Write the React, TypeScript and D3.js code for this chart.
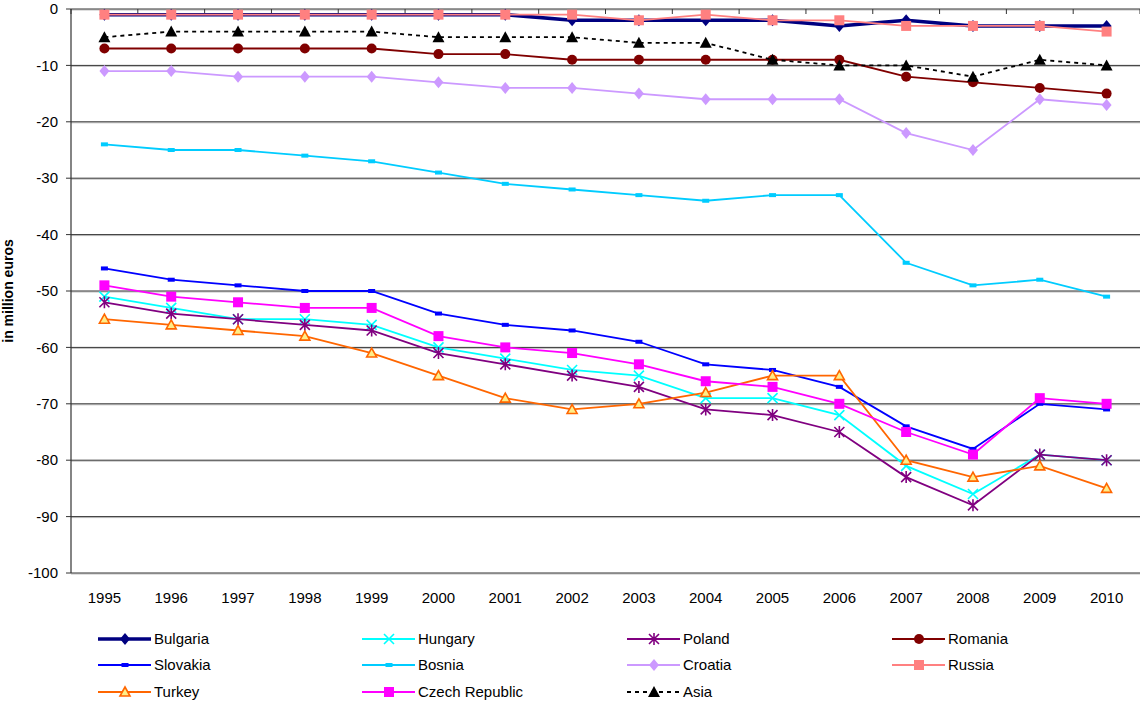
import * as d3 from 'd3';

const years = ['1995', '1996', '1997', '1998', '1999', '2000', '2001', '2002', '2003', '2004', '2005', '2006', '2007', '2008', '2009', '2010'];
const yTicks = [0, -10, -20, -30, -40, -50, -60, -70, -80, -90, -100];

const bulgaria = [-1, -1, -1, -1, -1, -1, -1, -2, -2, -2, -2, -3, -2, -3, -3, -3];
const hungary = [-51, -53, -55, -55, -56, -60, -62, -64, -65, -69, -69, -72, -81, -86, -79, -80];
const poland = [-52, -54, -55, -56, -57, -61, -63, -65, -67, -71, -72, -75, -83, -88, -79, -80];
const romania = [-7, -7, -7, -7, -7, -8, -8, -9, -9, -9, -9, -9, -12, -13, -14, -15];
const slovakia = [-46, -48, -49, -50, -50, -54, -56, -57, -59, -63, -64, -67, -74, -78, -70, -71];
const bosnia = [-24, -25, -25, -26, -27, -29, -31, -32, -33, -34, -33, -33, -45, -49, -48, -51];
const croatia = [-11, -11, -12, -12, -12, -13, -14, -14, -15, -16, -16, -16, -22, -25, -16, -17];
const russia = [-1, -1, -1, -1, -1, -1, -1, -1, -2, -1, -2, -2, -3, -3, -3, -4];
const turkey = [-55, -56, -57, -58, -61, -65, -69, -71, -70, -68, -65, -65, -80, -83, -81, -85];
const czech = [-49, -51, -52, -53, -53, -58, -60, -61, -63, -66, -67, -70, -75, -79, -69, -70];
const asia = [-5, -4, -4, -4, -4, -5, -5, -5, -6, -6, -9, -10, -10, -12, -9, -10];

type Marker = 'diamond' | 'x' | 'star' | 'circle' | 'dash' | 'square' | 'triangle';

interface Series {
  name: string;
  values: number[];
  color: string;
  width: number;
  marker: Marker;
  fill?: string;
  dashed?: boolean;
}

const series: Series[] = [
  { name: 'Bulgaria', values: bulgaria, color: '#000080', width: 3.5, marker: 'diamond' },
  { name: 'Hungary', values: hungary, color: '#00FFFF', width: 1.8, marker: 'x' },
  { name: 'Poland', values: poland, color: '#800080', width: 1.8, marker: 'star' },
  { name: 'Romania', values: romania, color: '#800000', width: 1.8, marker: 'circle' },
  { name: 'Slovakia', values: slovakia, color: '#0000FF', width: 1.8, marker: 'dash' },
  { name: 'Bosnia', values: bosnia, color: '#00CCFF', width: 1.8, marker: 'dash' },
  { name: 'Croatia', values: croatia, color: '#CC99FF', width: 1.8, marker: 'diamond' },
  { name: 'Russia', values: russia, color: '#FF8080', width: 1.8, marker: 'square' },
  { name: 'Turkey', values: turkey, color: '#FF6600', width: 1.8, marker: 'triangle', fill: '#FFEE88' },
  { name: 'Czech Republic', values: czech, color: '#FF00FF', width: 1.8, marker: 'square' },
  { name: 'Asia', values: asia, color: '#000000', width: 1.8, marker: 'triangle', dashed: true },
];

const W = 1140;
const H = 704;
const plot = { left: 71, right: 1140, top: 9, bottom: 573 };
const font = 'Arial, "Liberation Sans", sans-serif';

const MarkerShape = ({ s, x, y }: { s: Series; x: number; y: number }) => {
  const c = s.color;
  switch (s.marker) {
    case 'diamond':
      return <path d={`M${x},${y - 6}L${x + 5},${y}L${x},${y + 6}L${x - 5},${y}Z`} fill={c} />;
    case 'square':
      return <rect x={x - 5} y={y - 5} width={10} height={10} fill={c} />;
    case 'circle':
      return <circle cx={x} cy={y} r={5} fill={c} />;
    case 'dash':
      return <rect x={x - 3.5} y={y - 2} width={7} height={4} fill={c} />;
    case 'triangle':
      // open (filled light) triangle for Turkey, solid for Asia
      return s.fill ? (
        <path d={`M${x},${y - 5}L${x + 5},${y + 4}L${x - 5},${y + 4}Z`} fill={s.fill} stroke={c} strokeWidth={1.6} />
      ) : (
        <path d={`M${x},${y - 6}L${x + 6},${y + 5}L${x - 6},${y + 5}Z`} fill={c} />
      );
    case 'x':
      return (
        <path d={`M${x - 5},${y - 5}L${x + 5},${y + 5}M${x - 5},${y + 5}L${x + 5},${y - 5}`} stroke={c} strokeWidth={1.6} />
      );
    case 'star':
      return (
        <path
          d={`M${x - 5},${y - 5}L${x + 5},${y + 5}M${x - 5},${y + 5}L${x + 5},${y - 5}M${x},${y - 6}L${x},${y + 6}`}
          stroke={c}
          strokeWidth={1.6}
        />
      );
  }
  return null;
};

const App = () => {
  const x = d3.scaleBand<string>().domain(years).range([plot.left, plot.right]);
  const y = d3.scaleLinear().domain([-100, 0]).range([plot.bottom, plot.top]);
  const cx = (yr: string) => (x(yr) || 0) + x.bandwidth() / 2;

  const line = d3
    .line<number>()
    .x((_, i) => cx(years[i]))
    .y((d) => y(d));

  const legendCols = [98, 362, 627, 892];
  const legendRows = [639, 665, 692];

  return (
    <svg width={W} height={H} style={{ position: 'absolute', left: 0, top: 0, background: '#fff' }} fontFamily={font}>
      {/* grid */}
      {yTicks.map((t) => (
        <g key={t}>
          <line x1={plot.left} x2={plot.right} y1={y(t) + 1} y2={y(t) + 1} stroke="#c0c0c0" strokeWidth={1} />
          <line x1={plot.left - 5} x2={plot.right} y1={y(t)} y2={y(t)} stroke="#333" strokeWidth={1} />
          <text x={58} y={y(t)} dy="0.35em" textAnchor="end" fontSize={15} fill="#000">
            {t}
          </text>
        </g>
      ))}
      <line x1={plot.left} x2={plot.left} y1={plot.top} y2={plot.bottom} stroke="#333" strokeWidth={1.2} />
      {/* category ticks on the zero line */}
      {years.concat(['end']).map((yr, i) => {
        const px = plot.left + i * x.bandwidth();
        return <line key={yr} x1={px} x2={px} y1={plot.top} y2={plot.top + 5} stroke="#333" strokeWidth={1} />;
      })}
      {years.map((yr) => (
        <text key={yr} x={cx(yr)} y={598} dy="0.35em" textAnchor="middle" fontSize={15}>
          {yr}
        </text>
      ))}
      <text
        transform={`translate(13, ${(plot.top + plot.bottom) / 2}) rotate(-90)`}
        textAnchor="middle"
        fontSize={14}
        fontWeight="bold"
      >
        in million euros
      </text>

      {/* series */}
      {series.map((s) => (
        <g key={s.name}>
          <path
            d={line(s.values) || ''}
            fill="none"
            stroke={s.color}
            strokeWidth={s.width}
            strokeDasharray={s.dashed ? '4,4' : undefined}
          />
          {s.values.map((v, i) => (
            <MarkerShape key={i} s={s} x={cx(years[i])} y={y(v)} />
          ))}
        </g>
      ))}

      {/* legend */}
      {series.map((s, i) => {
        const lx = legendCols[i % 4];
        const ly = legendRows[Math.floor(i / 4)];
        return (
          <g key={s.name}>
            <line
              x1={lx}
              x2={lx + 53}
              y1={ly}
              y2={ly}
              stroke={s.color}
              strokeWidth={s.width}
              strokeDasharray={s.dashed ? '4,4' : undefined}
            />
            <MarkerShape s={s} x={lx + 27} y={ly} />
            <text x={lx + 56} y={ly} dy="0.35em" fontSize={15}>
              {s.name}
            </text>
          </g>
        );
      })}
    </svg>
  );
};

export default App;
